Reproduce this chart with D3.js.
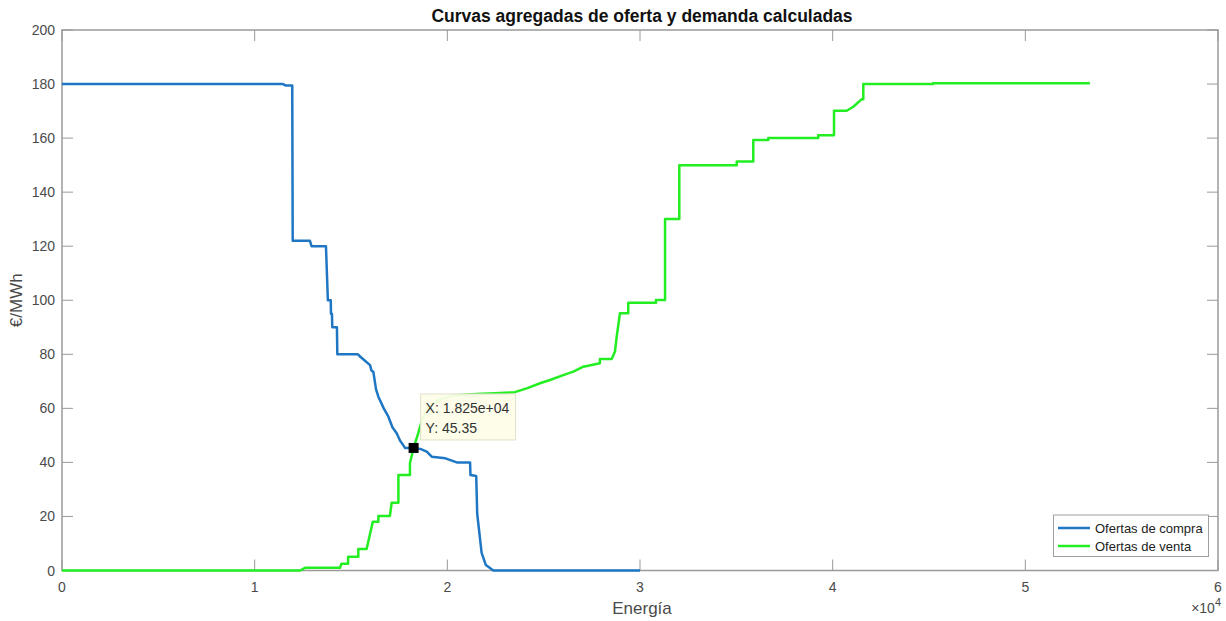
<!DOCTYPE html>
<html>
<head>
<meta charset="utf-8">
<title>Curvas agregadas</title>
<script src="https://cdn.jsdelivr.net/npm/d3@7/dist/d3.min.js"></script>
<style>
body { margin: 0; background: #fff; }
text { font-family: "Liberation Sans", Arial, sans-serif; }
</style>
</head>
<body>
<script>
// ofertas de compra (demanda), energia en MWh / precio en €/MWh
var compraEnergia = [0,11470,11600,11950,11975,12870,12950,13700,13750,13800,13950,13960,14010,14030,14270,14290,15360,15500,15990,16060,16160,16300,16420,16700,16940,17150,17370,17550,17710,17800,18250,18600,18930,19190,19900,20490,21180,21200,21500,21550,21780,22000,22390,30000];
var compraPrecio  = [180,180,179.5,179.5,122,122,120,120,110,100,100,95,95,90,90,80,80,79,76,74,73.5,67,64.3,60,56.9,53,50.8,48,46.4,45.35,45.35,45,44,42.1,41.5,40,40,35.3,35,21,6.5,2,0,0];

// ofertas de venta (oferta)
var ventaEnergia = [0,12360,12610,14430,14500,14850,14850,15380,15380,15810,15900,16130,16420,16420,17020,17110,17460,17460,18060,18060,18250,18490,18700,19000,19500,20300,21500,22470,23500,24120,24810,25330,26020,26540,27060,27920,27920,28530,28700,28790,28960,29390,29390,30830,30830,31300,31300,32040,32040,35020,35020,35880,35880,36660,36660,39250,39250,40070,40070,40730,41070,41510,41590,41590,45210,45210,53350];
var ventaPrecio  = [0,0,1,1,2.5,2.5,5.1,5.1,8,8,10.7,18,18,20.2,20.2,25.1,25.1,35.3,35.3,39.7,45.35,50.8,56,60,63,64.8,65.3,65.6,66,67.4,69.3,70.5,72.3,73.6,75.4,76.7,78.3,78.3,81,86.5,95.2,95.2,99.1,99.1,100.1,100.1,130.1,130.1,150,150,151.3,151.3,159.3,159.3,160,160,161.1,161.1,170.1,170.1,171.6,174.4,174.4,180,180,180.3,180.3];

var xTicks = [0,10000,20000,30000,40000,50000,60000];
var yTicks = [0,20,40,60,80,100,120,140,160,180,200];
var tipEnergia = 18250, tipPrecio = 45.35;

var width = 1226, height = 621;
var margin = {left: 62, right: 8, top: 30, bottom: 50.5};

var svg = d3.select("body").append("svg")
  .attr("width", width).attr("height", height)
  .style("background", "white");

var x = d3.scaleLinear().domain([0, 60000]).range([margin.left, width - margin.right]);
var y = d3.scaleLinear().domain([0, 200]).range([height - margin.bottom, margin.top]);

var axisColor = "#9a9a9a", labelColor = "#4a4a4a";

// axes box
svg.append("rect")
  .attr("x", x(0)).attr("y", y(200))
  .attr("width", x(60000) - x(0)).attr("height", y(0) - y(200))
  .attr("fill", "none").attr("stroke", axisColor).attr("stroke-width", 1.5);

var tl = 11;
// x ticks (inward, bottom and top)
var gx = svg.append("g");
xTicks.forEach(function(t){
  gx.append("line").attr("x1", x(t)).attr("x2", x(t)).attr("y1", y(0)).attr("y2", y(0) - tl)
    .attr("stroke", axisColor).attr("stroke-width", 1);
  gx.append("line").attr("x1", x(t)).attr("x2", x(t)).attr("y1", y(200)).attr("y2", y(200) + tl)
    .attr("stroke", axisColor).attr("stroke-width", 1);
  gx.append("text").attr("x", x(t)).attr("y", y(0) + 21.5)
    .attr("text-anchor", "middle").attr("font-size", 14).attr("fill", labelColor)
    .text(t / 10000);
});
// y ticks
var gy = svg.append("g");
yTicks.forEach(function(t){
  gy.append("line").attr("x1", x(0)).attr("x2", x(0) + tl).attr("y1", y(t)).attr("y2", y(t))
    .attr("stroke", axisColor).attr("stroke-width", 1);
  gy.append("line").attr("x1", x(60000)).attr("x2", x(60000) - tl).attr("y1", y(t)).attr("y2", y(t))
    .attr("stroke", axisColor).attr("stroke-width", 1);
  gy.append("text").attr("x", x(0) - 7).attr("y", y(t) + 5)
    .attr("text-anchor", "end").attr("font-size", 14).attr("fill", labelColor)
    .text(t);
});

// exponent label
var ex = svg.append("text").attr("x", x(60000) + 3).attr("y", 613)
  .attr("text-anchor", "end").attr("font-size", 14).attr("fill", labelColor);
ex.append("tspan").text("\u00d710");
ex.append("tspan").attr("dy", -7).attr("font-size", 11).text("4");

// labels
svg.append("text").attr("x", (x(0) + x(60000)) / 2 + 2).attr("y", 22)
  .attr("text-anchor", "middle").attr("font-size", 17.5).attr("font-weight", "bold").attr("fill", "#111")
  .text("Curvas agregadas de oferta y demanda calculadas");
svg.append("text").attr("x", (x(0) + x(60000)) / 2 + 2).attr("y", 614)
  .attr("text-anchor", "middle").attr("font-size", 17).attr("fill", labelColor)
  .text("Energía");
svg.append("text").attr("transform", "translate(22," + ((y(0) + y(200)) / 2) + ") rotate(-90)")
  .attr("text-anchor", "middle").attr("font-size", 17).attr("fill", labelColor)
  .text("€/MWh");

// lines
var line = d3.line().x(function(d){ return x(d[0]); }).y(function(d){ return y(d[1]); });
var compra = d3.zip(compraEnergia, compraPrecio);
var venta = d3.zip(ventaEnergia, ventaPrecio);

svg.append("path").datum(compra).attr("d", line)
  .attr("fill", "none").attr("stroke", "#1f77c4").attr("stroke-width", 2.5).attr("stroke-linejoin", "round");
svg.append("path").datum(venta).attr("d", line)
  .attr("fill", "none").attr("stroke", "#22ee22").attr("stroke-width", 2.5).attr("stroke-linejoin", "round");

// data tip
var px = x(tipEnergia), py = y(tipPrecio);
svg.append("rect").attr("x", px + 7).attr("y", py - 54).attr("width", 95).attr("height", 46)
  .attr("fill", "#fdfde8").attr("fill-opacity", 0.93).attr("stroke", "#e0e0cc").attr("stroke-width", 1);
svg.append("text").attr("x", px + 12).attr("y", py - 35).attr("font-size", 14).attr("fill", "#333")
  .text("X: 1.825e+04");
svg.append("text").attr("x", px + 12).attr("y", py - 15).attr("font-size", 14).attr("fill", "#333")
  .text("Y: 45.35");
svg.append("rect").attr("x", px - 5).attr("y", py - 5).attr("width", 10).attr("height", 10).attr("fill", "#000");

// legend
var lg = svg.append("g");
lg.append("rect").attr("x", 1053.5).attr("y", 515).attr("width", 155).attr("height", 41.5)
  .attr("fill", "#fff").attr("stroke", "#a0a0a0").attr("stroke-width", 1);
[["Ofertas de compra", "#1f77c4"], ["Ofertas de venta", "#22ee22"]].forEach(function(d, i){
  var yy = 528 + i * 18;
  lg.append("line").attr("x1", 1058).attr("x2", 1090).attr("y1", yy).attr("y2", yy)
    .attr("stroke", d[1]).attr("stroke-width", 2.5);
  lg.append("text").attr("x", 1095).attr("y", yy + 4.5).attr("font-size", 13).attr("fill", "#222").text(d[0]);
});
</script>
</body>
</html>
